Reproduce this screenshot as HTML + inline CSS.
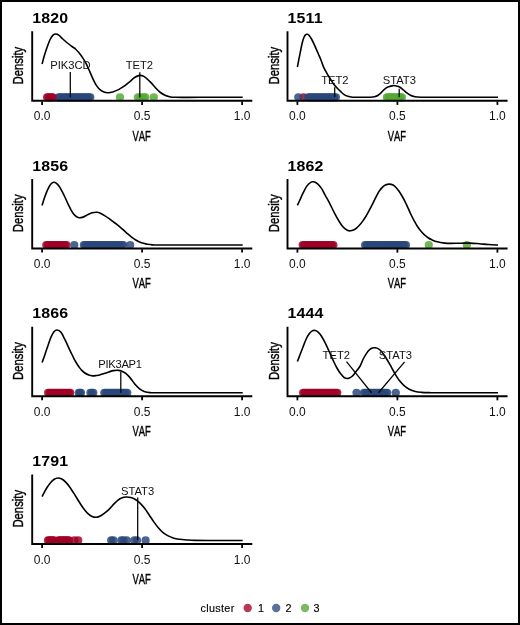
<!DOCTYPE html>
<html><head><meta charset="utf-8"><style>
html,body{margin:0;padding:0;background:#fff;}
body{width:520px;height:625px;overflow:hidden;}
svg{display:block;will-change:transform;}
text{font-family:"Liberation Sans",sans-serif;fill:#000;}
.ttl{font-weight:bold;font-size:14.5px;letter-spacing:0.1px;}
.ax{font-size:14.2px;stroke:#000;stroke-width:0.4px;font-kerning:none;}
.tl{font-size:12px;fill:#111;}
.lab{font-size:11.2px;fill:#111;}
.lg{font-size:10.8px;fill:#000;letter-spacing:0.35px;stroke:#000;stroke-width:0.15px;}
.crv{fill:none;stroke:#000;stroke-width:1.6;stroke-linejoin:round;}
.ll{stroke:#000;stroke-width:1.25;}
.axl{fill:none;stroke:#000;stroke-width:1.9;stroke-linecap:butt;stroke-linejoin:miter;}
.tk{stroke:#000;stroke-width:1.8;}
</style></head><body>
<svg width="520" height="625" viewBox="0 0 520 625">
<rect x="1" y="1" width="518" height="623" fill="#fff" stroke="#000" stroke-width="2"/>
<g transform="translate(0.00,0.00)">
<text transform="translate(32.3,22.9) scale(1.1,1)" class="ttl">1820</text>
<text class="ax" style="font-size:14.9px" transform="translate(23.35,65.6) rotate(-90) scale(0.76,1)" text-anchor="middle">Density</text>
<circle cx="58.60" cy="97.3" r="4.1" fill="#2A487A" fill-opacity="0.84"/>
<circle cx="60.19" cy="97.3" r="4.1" fill="#2A487A" fill-opacity="0.84"/>
<circle cx="61.77" cy="97.3" r="4.1" fill="#2A487A" fill-opacity="0.84"/>
<circle cx="63.36" cy="97.3" r="4.1" fill="#2A487A" fill-opacity="0.84"/>
<circle cx="64.94" cy="97.3" r="4.1" fill="#2A487A" fill-opacity="0.84"/>
<circle cx="66.53" cy="97.3" r="4.1" fill="#2A487A" fill-opacity="0.84"/>
<circle cx="68.11" cy="97.3" r="4.1" fill="#2A487A" fill-opacity="0.84"/>
<circle cx="69.69" cy="97.3" r="4.1" fill="#2A487A" fill-opacity="0.84"/>
<circle cx="71.28" cy="97.3" r="4.1" fill="#2A487A" fill-opacity="0.84"/>
<circle cx="72.86" cy="97.3" r="4.1" fill="#2A487A" fill-opacity="0.84"/>
<circle cx="74.45" cy="97.3" r="4.1" fill="#2A487A" fill-opacity="0.84"/>
<circle cx="76.03" cy="97.3" r="4.1" fill="#2A487A" fill-opacity="0.84"/>
<circle cx="77.62" cy="97.3" r="4.1" fill="#2A487A" fill-opacity="0.84"/>
<circle cx="79.20" cy="97.3" r="4.1" fill="#2A487A" fill-opacity="0.84"/>
<circle cx="80.79" cy="97.3" r="4.1" fill="#2A487A" fill-opacity="0.84"/>
<circle cx="82.38" cy="97.3" r="4.1" fill="#2A487A" fill-opacity="0.84"/>
<circle cx="83.96" cy="97.3" r="4.1" fill="#2A487A" fill-opacity="0.84"/>
<circle cx="85.55" cy="97.3" r="4.1" fill="#2A487A" fill-opacity="0.84"/>
<circle cx="87.13" cy="97.3" r="4.1" fill="#2A487A" fill-opacity="0.84"/>
<circle cx="88.72" cy="97.3" r="4.1" fill="#2A487A" fill-opacity="0.84"/>
<circle cx="90.30" cy="97.3" r="4.1" fill="#2A487A" fill-opacity="0.84"/>
<circle cx="47.10" cy="97.3" r="4.1" fill="#A00026" fill-opacity="0.84"/>
<circle cx="48.52" cy="97.3" r="4.1" fill="#A00026" fill-opacity="0.84"/>
<circle cx="49.95" cy="97.3" r="4.1" fill="#A00026" fill-opacity="0.84"/>
<circle cx="51.38" cy="97.3" r="4.1" fill="#A00026" fill-opacity="0.84"/>
<circle cx="52.80" cy="97.3" r="4.1" fill="#A00026" fill-opacity="0.84"/>
<circle cx="120.00" cy="97.3" r="4.1" fill="#55A834" fill-opacity="0.84"/>
<circle cx="137.90" cy="97.3" r="4.1" fill="#55A834" fill-opacity="0.84"/>
<circle cx="140.50" cy="97.3" r="4.1" fill="#55A834" fill-opacity="0.84"/>
<circle cx="143.50" cy="97.3" r="4.1" fill="#55A834" fill-opacity="0.84"/>
<circle cx="145.30" cy="97.3" r="4.1" fill="#55A834" fill-opacity="0.84"/>
<circle cx="153.80" cy="97.3" r="4.1" fill="#55A834" fill-opacity="0.84"/>
<path d="M42.10,64.00 C42.47,62.62 43.45,58.53 44.30,55.70 C45.15,52.87 46.23,49.70 47.20,47.00 C48.17,44.30 49.13,41.47 50.10,39.50 C51.07,37.53 52.03,36.12 53.00,35.20 C53.97,34.28 54.93,34.00 55.90,34.00 C56.87,34.00 57.65,34.37 58.80,35.20 C59.95,36.03 61.37,37.70 62.80,39.00 C64.23,40.30 65.87,41.75 67.40,43.00 C68.93,44.25 70.65,45.50 72.00,46.50 C73.35,47.50 74.33,47.95 75.50,49.00 C76.67,50.05 77.85,51.40 79.00,52.80 C80.15,54.20 81.25,55.67 82.40,57.40 C83.55,59.13 84.70,60.90 85.90,63.20 C87.10,65.50 88.40,68.53 89.60,71.20 C90.80,73.87 91.95,76.80 93.10,79.20 C94.25,81.60 95.25,83.77 96.50,85.60 C97.75,87.43 99.25,89.08 100.60,90.20 C101.95,91.32 103.35,91.88 104.60,92.30 C105.85,92.72 106.75,92.77 108.10,92.70 C109.45,92.63 110.97,92.42 112.70,91.90 C114.43,91.38 116.58,90.55 118.50,89.60 C120.42,88.65 122.28,87.55 124.20,86.20 C126.12,84.85 128.27,82.95 130.00,81.50 C131.73,80.05 133.00,78.52 134.60,77.50 C136.20,76.48 138.18,75.65 139.60,75.40 C141.02,75.15 141.95,75.52 143.10,76.00 C144.25,76.48 145.15,77.15 146.50,78.30 C147.85,79.45 149.65,81.27 151.20,82.90 C152.75,84.53 154.27,86.50 155.80,88.10 C157.33,89.70 158.87,91.32 160.40,92.50 C161.93,93.68 163.47,94.50 165.00,95.20 C166.53,95.90 167.87,96.35 169.60,96.70 C171.33,97.05 170.33,97.20 175.40,97.30 C180.47,97.40 188.78,97.30 200.00,97.30 C211.22,97.30 235.58,97.30 242.70,97.30" class="crv"/>
<text x="70.5" y="68.6" class="lab" text-anchor="middle">PIK3CD</text>
<text x="139.4" y="68.7" class="lab" text-anchor="middle">TET2</text>
<line x1="70.3" x2="70.3" y1="71.9" y2="97.2" class="ll"/>
<line x1="139.8" x2="139.8" y1="72.2" y2="97.4" class="ll"/>
<path d="M32.2,31.3 V100.8 H252.3" class="axl"/>
<line x1="42.1" x2="42.1" y1="101.5" y2="104.9" class="tk"/>
<text x="42.1" y="120.4" class="tl" text-anchor="middle">0.0</text>
<line x1="142.1" x2="142.1" y1="101.5" y2="104.9" class="tk"/>
<text x="142.1" y="120.4" class="tl" text-anchor="middle">0.5</text>
<line x1="242.1" x2="242.1" y1="101.5" y2="104.9" class="tk"/>
<text x="242.1" y="120.4" class="tl" text-anchor="middle">1.0</text>
<text class="ax" transform="translate(141.6,140.5) scale(0.665,1)" text-anchor="middle">VAF</text>
</g>
<g transform="translate(255.30,0.00)">
<text transform="translate(32.3,22.9) scale(1.1,1)" class="ttl">1511</text>
<text class="ax" style="font-size:14.9px" transform="translate(23.35,65.6) rotate(-90) scale(0.76,1)" text-anchor="middle">Density</text>
<circle cx="48.20" cy="97.3" r="4.1" fill="#A00026" fill-opacity="0.84"/>
<circle cx="43.00" cy="97.3" r="4.1" fill="#2A487A" fill-opacity="0.84"/>
<circle cx="52.90" cy="97.3" r="4.1" fill="#2A487A" fill-opacity="0.84"/>
<circle cx="54.53" cy="97.3" r="4.1" fill="#2A487A" fill-opacity="0.84"/>
<circle cx="56.16" cy="97.3" r="4.1" fill="#2A487A" fill-opacity="0.84"/>
<circle cx="57.79" cy="97.3" r="4.1" fill="#2A487A" fill-opacity="0.84"/>
<circle cx="59.42" cy="97.3" r="4.1" fill="#2A487A" fill-opacity="0.84"/>
<circle cx="61.05" cy="97.3" r="4.1" fill="#2A487A" fill-opacity="0.84"/>
<circle cx="62.68" cy="97.3" r="4.1" fill="#2A487A" fill-opacity="0.84"/>
<circle cx="64.31" cy="97.3" r="4.1" fill="#2A487A" fill-opacity="0.84"/>
<circle cx="65.94" cy="97.3" r="4.1" fill="#2A487A" fill-opacity="0.84"/>
<circle cx="67.56" cy="97.3" r="4.1" fill="#2A487A" fill-opacity="0.84"/>
<circle cx="69.19" cy="97.3" r="4.1" fill="#2A487A" fill-opacity="0.84"/>
<circle cx="70.82" cy="97.3" r="4.1" fill="#2A487A" fill-opacity="0.84"/>
<circle cx="72.45" cy="97.3" r="4.1" fill="#2A487A" fill-opacity="0.84"/>
<circle cx="74.08" cy="97.3" r="4.1" fill="#2A487A" fill-opacity="0.84"/>
<circle cx="75.71" cy="97.3" r="4.1" fill="#2A487A" fill-opacity="0.84"/>
<circle cx="77.34" cy="97.3" r="4.1" fill="#2A487A" fill-opacity="0.84"/>
<circle cx="78.97" cy="97.3" r="4.1" fill="#2A487A" fill-opacity="0.84"/>
<circle cx="80.60" cy="97.3" r="4.1" fill="#2A487A" fill-opacity="0.84"/>
<circle cx="131.60" cy="97.3" r="4.1" fill="#55A834" fill-opacity="0.84"/>
<circle cx="133.10" cy="97.3" r="4.1" fill="#55A834" fill-opacity="0.84"/>
<circle cx="134.60" cy="97.3" r="4.1" fill="#55A834" fill-opacity="0.84"/>
<circle cx="136.10" cy="97.3" r="4.1" fill="#55A834" fill-opacity="0.84"/>
<circle cx="137.60" cy="97.3" r="4.1" fill="#55A834" fill-opacity="0.84"/>
<circle cx="139.10" cy="97.3" r="4.1" fill="#55A834" fill-opacity="0.84"/>
<circle cx="140.60" cy="97.3" r="4.1" fill="#55A834" fill-opacity="0.84"/>
<circle cx="142.10" cy="97.3" r="4.1" fill="#55A834" fill-opacity="0.84"/>
<circle cx="143.60" cy="97.3" r="4.1" fill="#55A834" fill-opacity="0.84"/>
<circle cx="145.10" cy="97.3" r="4.1" fill="#55A834" fill-opacity="0.84"/>
<circle cx="146.60" cy="97.3" r="4.1" fill="#55A834" fill-opacity="0.84"/>
<path d="M42.10,67.00 C42.33,65.78 42.98,62.35 43.50,59.70 C44.02,57.05 44.63,53.88 45.20,51.10 C45.77,48.32 46.32,45.32 46.90,43.00 C47.48,40.68 48.12,38.58 48.70,37.20 C49.28,35.82 49.83,35.18 50.40,34.70 C50.97,34.22 51.52,34.17 52.10,34.30 C52.68,34.43 53.22,34.72 53.90,35.50 C54.58,36.28 55.43,37.65 56.20,39.00 C56.97,40.35 57.73,41.97 58.50,43.60 C59.27,45.23 60.03,47.07 60.80,48.80 C61.57,50.53 62.33,52.27 63.10,54.00 C63.87,55.73 64.55,57.05 65.40,59.20 C66.25,61.35 67.17,64.55 68.20,66.90 C69.23,69.25 70.45,71.28 71.60,73.30 C72.75,75.32 73.95,77.18 75.10,79.00 C76.25,80.82 77.35,82.65 78.50,84.20 C79.65,85.75 80.83,87.05 82.00,88.30 C83.17,89.55 84.35,90.65 85.50,91.70 C86.65,92.75 87.75,93.83 88.90,94.60 C90.05,95.37 91.05,95.87 92.40,96.30 C93.75,96.73 94.88,97.03 97.00,97.20 C99.12,97.37 102.15,97.30 105.10,97.30 C108.05,97.30 112.33,97.30 114.70,97.20 C117.07,97.10 117.95,97.03 119.30,96.70 C120.65,96.37 121.65,95.93 122.80,95.20 C123.95,94.47 125.05,93.37 126.20,92.30 C127.35,91.23 128.53,89.72 129.70,88.80 C130.87,87.88 131.85,87.33 133.20,86.80 C134.55,86.27 136.47,85.73 137.80,85.60 C139.13,85.47 140.05,85.72 141.20,86.00 C142.35,86.28 143.53,86.63 144.70,87.30 C145.87,87.97 147.05,89.07 148.20,90.00 C149.35,90.93 150.45,92.03 151.60,92.90 C152.75,93.77 153.75,94.57 155.10,95.20 C156.45,95.83 157.97,96.37 159.70,96.70 C161.43,97.03 162.95,97.10 165.50,97.20 C168.05,97.30 162.13,97.28 175.00,97.30 C187.87,97.32 231.42,97.30 242.70,97.30" class="crv"/>
<text x="79.6" y="84.2" class="lab" text-anchor="middle">TET2</text>
<text x="144.0" y="84.2" class="lab" text-anchor="middle">STAT3</text>
<line x1="79.4" x2="79.4" y1="87.3" y2="96.9" class="ll"/>
<line x1="143.9" x2="143.9" y1="88.8" y2="97.2" class="ll"/>
<path d="M32.2,31.3 V100.8 H252.3" class="axl"/>
<line x1="42.1" x2="42.1" y1="101.5" y2="104.9" class="tk"/>
<text x="42.1" y="120.4" class="tl" text-anchor="middle">0.0</text>
<line x1="142.1" x2="142.1" y1="101.5" y2="104.9" class="tk"/>
<text x="142.1" y="120.4" class="tl" text-anchor="middle">0.5</text>
<line x1="242.1" x2="242.1" y1="101.5" y2="104.9" class="tk"/>
<text x="242.1" y="120.4" class="tl" text-anchor="middle">1.0</text>
<text class="ax" transform="translate(141.6,140.5) scale(0.665,1)" text-anchor="middle">VAF</text>
</g>
<g transform="translate(0.00,147.72)">
<text transform="translate(32.3,22.9) scale(1.1,1)" class="ttl">1856</text>
<text class="ax" style="font-size:14.9px" transform="translate(23.35,65.6) rotate(-90) scale(0.76,1)" text-anchor="middle">Density</text>
<circle cx="46.30" cy="97.3" r="4.1" fill="#A00026" fill-opacity="0.84"/>
<circle cx="47.85" cy="97.3" r="4.1" fill="#A00026" fill-opacity="0.84"/>
<circle cx="49.39" cy="97.3" r="4.1" fill="#A00026" fill-opacity="0.84"/>
<circle cx="50.94" cy="97.3" r="4.1" fill="#A00026" fill-opacity="0.84"/>
<circle cx="52.48" cy="97.3" r="4.1" fill="#A00026" fill-opacity="0.84"/>
<circle cx="54.03" cy="97.3" r="4.1" fill="#A00026" fill-opacity="0.84"/>
<circle cx="55.58" cy="97.3" r="4.1" fill="#A00026" fill-opacity="0.84"/>
<circle cx="57.12" cy="97.3" r="4.1" fill="#A00026" fill-opacity="0.84"/>
<circle cx="58.67" cy="97.3" r="4.1" fill="#A00026" fill-opacity="0.84"/>
<circle cx="60.22" cy="97.3" r="4.1" fill="#A00026" fill-opacity="0.84"/>
<circle cx="61.76" cy="97.3" r="4.1" fill="#A00026" fill-opacity="0.84"/>
<circle cx="63.31" cy="97.3" r="4.1" fill="#A00026" fill-opacity="0.84"/>
<circle cx="64.85" cy="97.3" r="4.1" fill="#A00026" fill-opacity="0.84"/>
<circle cx="66.40" cy="97.3" r="4.1" fill="#A00026" fill-opacity="0.84"/>
<circle cx="74.30" cy="97.3" r="4.1" fill="#2A487A" fill-opacity="0.84"/>
<circle cx="83.90" cy="97.3" r="4.1" fill="#2A487A" fill-opacity="0.84"/>
<circle cx="85.48" cy="97.3" r="4.1" fill="#2A487A" fill-opacity="0.84"/>
<circle cx="87.05" cy="97.3" r="4.1" fill="#2A487A" fill-opacity="0.84"/>
<circle cx="88.63" cy="97.3" r="4.1" fill="#2A487A" fill-opacity="0.84"/>
<circle cx="90.20" cy="97.3" r="4.1" fill="#2A487A" fill-opacity="0.84"/>
<circle cx="91.78" cy="97.3" r="4.1" fill="#2A487A" fill-opacity="0.84"/>
<circle cx="93.36" cy="97.3" r="4.1" fill="#2A487A" fill-opacity="0.84"/>
<circle cx="94.93" cy="97.3" r="4.1" fill="#2A487A" fill-opacity="0.84"/>
<circle cx="96.51" cy="97.3" r="4.1" fill="#2A487A" fill-opacity="0.84"/>
<circle cx="98.08" cy="97.3" r="4.1" fill="#2A487A" fill-opacity="0.84"/>
<circle cx="99.66" cy="97.3" r="4.1" fill="#2A487A" fill-opacity="0.84"/>
<circle cx="101.24" cy="97.3" r="4.1" fill="#2A487A" fill-opacity="0.84"/>
<circle cx="102.81" cy="97.3" r="4.1" fill="#2A487A" fill-opacity="0.84"/>
<circle cx="104.39" cy="97.3" r="4.1" fill="#2A487A" fill-opacity="0.84"/>
<circle cx="105.96" cy="97.3" r="4.1" fill="#2A487A" fill-opacity="0.84"/>
<circle cx="107.54" cy="97.3" r="4.1" fill="#2A487A" fill-opacity="0.84"/>
<circle cx="109.12" cy="97.3" r="4.1" fill="#2A487A" fill-opacity="0.84"/>
<circle cx="110.69" cy="97.3" r="4.1" fill="#2A487A" fill-opacity="0.84"/>
<circle cx="112.27" cy="97.3" r="4.1" fill="#2A487A" fill-opacity="0.84"/>
<circle cx="113.84" cy="97.3" r="4.1" fill="#2A487A" fill-opacity="0.84"/>
<circle cx="115.42" cy="97.3" r="4.1" fill="#2A487A" fill-opacity="0.84"/>
<circle cx="117.00" cy="97.3" r="4.1" fill="#2A487A" fill-opacity="0.84"/>
<circle cx="118.57" cy="97.3" r="4.1" fill="#2A487A" fill-opacity="0.84"/>
<circle cx="120.15" cy="97.3" r="4.1" fill="#2A487A" fill-opacity="0.84"/>
<circle cx="121.72" cy="97.3" r="4.1" fill="#2A487A" fill-opacity="0.84"/>
<circle cx="123.30" cy="97.3" r="4.1" fill="#2A487A" fill-opacity="0.84"/>
<circle cx="130.20" cy="97.3" r="4.1" fill="#2A487A" fill-opacity="0.84"/>
<path d="M42.10,57.80 C42.38,56.85 43.13,54.12 43.80,52.10 C44.47,50.08 45.33,47.63 46.10,45.70 C46.87,43.77 47.63,42.03 48.40,40.50 C49.17,38.97 49.83,37.48 50.70,36.50 C51.57,35.52 52.63,34.75 53.60,34.60 C54.57,34.45 55.55,34.90 56.50,35.60 C57.45,36.30 58.35,37.40 59.30,38.80 C60.25,40.20 61.23,42.17 62.20,44.00 C63.17,45.83 64.13,47.78 65.10,49.80 C66.07,51.82 66.93,53.88 68.00,56.10 C69.07,58.32 70.35,61.17 71.50,63.10 C72.65,65.03 73.65,66.55 74.90,67.70 C76.15,68.85 77.65,69.72 79.00,70.00 C80.35,70.28 81.57,69.88 83.00,69.40 C84.43,68.92 86.07,67.82 87.60,67.10 C89.13,66.38 90.65,65.52 92.20,65.10 C93.75,64.68 95.53,64.53 96.90,64.60 C98.27,64.67 99.05,64.92 100.40,65.50 C101.75,66.08 103.60,67.23 105.00,68.10 C106.40,68.97 107.52,69.77 108.80,70.70 C110.08,71.63 111.42,72.73 112.70,73.70 C113.98,74.67 115.22,75.52 116.50,76.50 C117.78,77.48 119.12,78.52 120.40,79.60 C121.68,80.68 122.92,81.85 124.20,83.00 C125.48,84.15 126.82,85.40 128.10,86.50 C129.38,87.60 130.62,88.63 131.90,89.60 C133.18,90.57 134.52,91.53 135.80,92.30 C137.08,93.07 138.32,93.65 139.60,94.20 C140.88,94.75 142.18,95.20 143.50,95.60 C144.82,96.00 145.97,96.35 147.50,96.60 C149.03,96.85 150.62,96.98 152.70,97.10 C154.78,97.22 145.00,97.27 160.00,97.30 C175.00,97.33 228.92,97.30 242.70,97.30" class="crv"/>
<path d="M32.2,31.3 V100.8 H252.3" class="axl"/>
<line x1="42.1" x2="42.1" y1="101.5" y2="104.9" class="tk"/>
<text x="42.1" y="120.4" class="tl" text-anchor="middle">0.0</text>
<line x1="142.1" x2="142.1" y1="101.5" y2="104.9" class="tk"/>
<text x="142.1" y="120.4" class="tl" text-anchor="middle">0.5</text>
<line x1="242.1" x2="242.1" y1="101.5" y2="104.9" class="tk"/>
<text x="242.1" y="120.4" class="tl" text-anchor="middle">1.0</text>
<text class="ax" transform="translate(141.6,140.5) scale(0.665,1)" text-anchor="middle">VAF</text>
</g>
<g transform="translate(255.30,147.72)">
<text transform="translate(32.3,22.9) scale(1.1,1)" class="ttl">1862</text>
<text class="ax" style="font-size:14.9px" transform="translate(23.35,65.6) rotate(-90) scale(0.76,1)" text-anchor="middle">Density</text>
<circle cx="47.40" cy="97.3" r="4.1" fill="#A00026" fill-opacity="0.84"/>
<circle cx="48.93" cy="97.3" r="4.1" fill="#A00026" fill-opacity="0.84"/>
<circle cx="50.47" cy="97.3" r="4.1" fill="#A00026" fill-opacity="0.84"/>
<circle cx="52.00" cy="97.3" r="4.1" fill="#A00026" fill-opacity="0.84"/>
<circle cx="53.54" cy="97.3" r="4.1" fill="#A00026" fill-opacity="0.84"/>
<circle cx="55.07" cy="97.3" r="4.1" fill="#A00026" fill-opacity="0.84"/>
<circle cx="56.61" cy="97.3" r="4.1" fill="#A00026" fill-opacity="0.84"/>
<circle cx="58.14" cy="97.3" r="4.1" fill="#A00026" fill-opacity="0.84"/>
<circle cx="59.68" cy="97.3" r="4.1" fill="#A00026" fill-opacity="0.84"/>
<circle cx="61.21" cy="97.3" r="4.1" fill="#A00026" fill-opacity="0.84"/>
<circle cx="62.75" cy="97.3" r="4.1" fill="#A00026" fill-opacity="0.84"/>
<circle cx="64.28" cy="97.3" r="4.1" fill="#A00026" fill-opacity="0.84"/>
<circle cx="65.82" cy="97.3" r="4.1" fill="#A00026" fill-opacity="0.84"/>
<circle cx="67.35" cy="97.3" r="4.1" fill="#A00026" fill-opacity="0.84"/>
<circle cx="68.89" cy="97.3" r="4.1" fill="#A00026" fill-opacity="0.84"/>
<circle cx="70.42" cy="97.3" r="4.1" fill="#A00026" fill-opacity="0.84"/>
<circle cx="71.96" cy="97.3" r="4.1" fill="#A00026" fill-opacity="0.84"/>
<circle cx="73.49" cy="97.3" r="4.1" fill="#A00026" fill-opacity="0.84"/>
<circle cx="75.03" cy="97.3" r="4.1" fill="#A00026" fill-opacity="0.84"/>
<circle cx="76.56" cy="97.3" r="4.1" fill="#A00026" fill-opacity="0.84"/>
<circle cx="78.10" cy="97.3" r="4.1" fill="#A00026" fill-opacity="0.84"/>
<circle cx="109.80" cy="97.3" r="4.1" fill="#2A487A" fill-opacity="0.84"/>
<circle cx="111.37" cy="97.3" r="4.1" fill="#2A487A" fill-opacity="0.84"/>
<circle cx="112.95" cy="97.3" r="4.1" fill="#2A487A" fill-opacity="0.84"/>
<circle cx="114.52" cy="97.3" r="4.1" fill="#2A487A" fill-opacity="0.84"/>
<circle cx="116.09" cy="97.3" r="4.1" fill="#2A487A" fill-opacity="0.84"/>
<circle cx="117.67" cy="97.3" r="4.1" fill="#2A487A" fill-opacity="0.84"/>
<circle cx="119.24" cy="97.3" r="4.1" fill="#2A487A" fill-opacity="0.84"/>
<circle cx="120.81" cy="97.3" r="4.1" fill="#2A487A" fill-opacity="0.84"/>
<circle cx="122.38" cy="97.3" r="4.1" fill="#2A487A" fill-opacity="0.84"/>
<circle cx="123.96" cy="97.3" r="4.1" fill="#2A487A" fill-opacity="0.84"/>
<circle cx="125.53" cy="97.3" r="4.1" fill="#2A487A" fill-opacity="0.84"/>
<circle cx="127.10" cy="97.3" r="4.1" fill="#2A487A" fill-opacity="0.84"/>
<circle cx="128.68" cy="97.3" r="4.1" fill="#2A487A" fill-opacity="0.84"/>
<circle cx="130.25" cy="97.3" r="4.1" fill="#2A487A" fill-opacity="0.84"/>
<circle cx="131.82" cy="97.3" r="4.1" fill="#2A487A" fill-opacity="0.84"/>
<circle cx="133.40" cy="97.3" r="4.1" fill="#2A487A" fill-opacity="0.84"/>
<circle cx="134.97" cy="97.3" r="4.1" fill="#2A487A" fill-opacity="0.84"/>
<circle cx="136.54" cy="97.3" r="4.1" fill="#2A487A" fill-opacity="0.84"/>
<circle cx="138.12" cy="97.3" r="4.1" fill="#2A487A" fill-opacity="0.84"/>
<circle cx="139.69" cy="97.3" r="4.1" fill="#2A487A" fill-opacity="0.84"/>
<circle cx="141.26" cy="97.3" r="4.1" fill="#2A487A" fill-opacity="0.84"/>
<circle cx="142.83" cy="97.3" r="4.1" fill="#2A487A" fill-opacity="0.84"/>
<circle cx="144.41" cy="97.3" r="4.1" fill="#2A487A" fill-opacity="0.84"/>
<circle cx="145.98" cy="97.3" r="4.1" fill="#2A487A" fill-opacity="0.84"/>
<circle cx="147.55" cy="97.3" r="4.1" fill="#2A487A" fill-opacity="0.84"/>
<circle cx="149.13" cy="97.3" r="4.1" fill="#2A487A" fill-opacity="0.84"/>
<circle cx="150.70" cy="97.3" r="4.1" fill="#2A487A" fill-opacity="0.84"/>
<circle cx="173.50" cy="97.3" r="4.1" fill="#55A834" fill-opacity="0.84"/>
<circle cx="211.60" cy="97.3" r="4.1" fill="#55A834" fill-opacity="0.84"/>
<path d="M42.10,57.60 C42.52,56.72 43.67,54.33 44.60,52.30 C45.53,50.27 46.55,47.72 47.70,45.40 C48.85,43.08 50.22,40.20 51.50,38.40 C52.78,36.60 54.23,35.32 55.40,34.60 C56.57,33.88 57.35,33.85 58.50,34.10 C59.65,34.35 61.02,35.00 62.30,36.10 C63.58,37.20 64.92,38.77 66.20,40.70 C67.48,42.63 68.60,45.13 70.00,47.70 C71.40,50.27 73.07,53.15 74.60,56.10 C76.13,59.05 77.65,62.45 79.20,65.40 C80.75,68.35 82.57,71.60 83.90,73.80 C85.23,76.00 86.20,77.37 87.20,78.60 C88.20,79.83 89.03,80.52 89.90,81.20 C90.77,81.88 91.53,82.38 92.40,82.70 C93.27,83.02 94.13,83.17 95.10,83.10 C96.07,83.03 97.18,82.75 98.20,82.30 C99.22,81.85 100.18,81.23 101.20,80.40 C102.22,79.57 103.27,78.47 104.30,77.30 C105.33,76.13 106.37,74.82 107.40,73.40 C108.43,71.98 109.48,70.47 110.50,68.80 C111.52,67.13 112.38,65.47 113.50,63.40 C114.62,61.33 115.97,58.83 117.20,56.40 C118.43,53.97 119.78,50.97 120.90,48.80 C122.02,46.63 122.88,44.93 123.90,43.40 C124.92,41.87 125.97,40.62 127.00,39.60 C128.03,38.58 128.95,37.83 130.10,37.30 C131.25,36.77 132.62,36.40 133.90,36.40 C135.18,36.40 136.63,36.70 137.80,37.30 C138.97,37.90 139.88,38.92 140.90,40.00 C141.92,41.08 142.88,42.33 143.90,43.80 C144.92,45.27 145.97,47.00 147.00,48.80 C148.03,50.60 149.13,52.67 150.10,54.60 C151.07,56.53 151.83,58.28 152.80,60.40 C153.77,62.52 154.88,65.18 155.90,67.30 C156.92,69.42 157.88,71.23 158.90,73.10 C159.92,74.97 160.97,76.90 162.00,78.50 C163.03,80.10 163.95,81.30 165.10,82.70 C166.25,84.10 167.62,85.68 168.90,86.90 C170.18,88.12 171.52,89.13 172.80,90.00 C174.08,90.87 175.07,91.42 176.60,92.10 C178.13,92.78 179.82,93.55 182.00,94.10 C184.18,94.65 187.58,95.13 189.70,95.40 C191.82,95.67 192.07,95.68 194.70,95.70 C197.33,95.72 202.17,95.55 205.50,95.50 C208.83,95.45 211.63,95.32 214.70,95.40 C217.77,95.48 220.82,95.77 223.90,96.00 C226.98,96.23 230.07,96.58 233.20,96.80 C236.33,97.02 241.12,97.22 242.70,97.30" class="crv"/>
<path d="M32.2,31.3 V100.8 H252.3" class="axl"/>
<line x1="42.1" x2="42.1" y1="101.5" y2="104.9" class="tk"/>
<text x="42.1" y="120.4" class="tl" text-anchor="middle">0.0</text>
<line x1="142.1" x2="142.1" y1="101.5" y2="104.9" class="tk"/>
<text x="142.1" y="120.4" class="tl" text-anchor="middle">0.5</text>
<line x1="242.1" x2="242.1" y1="101.5" y2="104.9" class="tk"/>
<text x="242.1" y="120.4" class="tl" text-anchor="middle">1.0</text>
<text class="ax" transform="translate(141.6,140.5) scale(0.665,1)" text-anchor="middle">VAF</text>
</g>
<g transform="translate(0.00,295.44)">
<text transform="translate(32.3,22.9) scale(1.1,1)" class="ttl">1866</text>
<text class="ax" style="font-size:14.9px" transform="translate(23.35,65.6) rotate(-90) scale(0.76,1)" text-anchor="middle">Density</text>
<circle cx="48.10" cy="97.3" r="4.1" fill="#A00026" fill-opacity="0.84"/>
<circle cx="49.58" cy="97.3" r="4.1" fill="#A00026" fill-opacity="0.84"/>
<circle cx="51.06" cy="97.3" r="4.1" fill="#A00026" fill-opacity="0.84"/>
<circle cx="52.54" cy="97.3" r="4.1" fill="#A00026" fill-opacity="0.84"/>
<circle cx="54.02" cy="97.3" r="4.1" fill="#A00026" fill-opacity="0.84"/>
<circle cx="55.50" cy="97.3" r="4.1" fill="#A00026" fill-opacity="0.84"/>
<circle cx="56.98" cy="97.3" r="4.1" fill="#A00026" fill-opacity="0.84"/>
<circle cx="58.46" cy="97.3" r="4.1" fill="#A00026" fill-opacity="0.84"/>
<circle cx="59.94" cy="97.3" r="4.1" fill="#A00026" fill-opacity="0.84"/>
<circle cx="61.42" cy="97.3" r="4.1" fill="#A00026" fill-opacity="0.84"/>
<circle cx="62.90" cy="97.3" r="4.1" fill="#A00026" fill-opacity="0.84"/>
<circle cx="64.38" cy="97.3" r="4.1" fill="#A00026" fill-opacity="0.84"/>
<circle cx="65.86" cy="97.3" r="4.1" fill="#A00026" fill-opacity="0.84"/>
<circle cx="67.34" cy="97.3" r="4.1" fill="#A00026" fill-opacity="0.84"/>
<circle cx="68.82" cy="97.3" r="4.1" fill="#A00026" fill-opacity="0.84"/>
<circle cx="70.30" cy="97.3" r="4.1" fill="#A00026" fill-opacity="0.84"/>
<circle cx="78.80" cy="97.3" r="4.1" fill="#2A487A" fill-opacity="0.84"/>
<circle cx="79.90" cy="97.3" r="4.1" fill="#2A487A" fill-opacity="0.84"/>
<circle cx="81.00" cy="97.3" r="4.1" fill="#2A487A" fill-opacity="0.84"/>
<circle cx="90.40" cy="97.3" r="4.1" fill="#2A487A" fill-opacity="0.84"/>
<circle cx="91.85" cy="97.3" r="4.1" fill="#2A487A" fill-opacity="0.84"/>
<circle cx="93.30" cy="97.3" r="4.1" fill="#2A487A" fill-opacity="0.84"/>
<circle cx="104.30" cy="97.3" r="4.1" fill="#2A487A" fill-opacity="0.84"/>
<circle cx="105.94" cy="97.3" r="4.1" fill="#2A487A" fill-opacity="0.84"/>
<circle cx="107.59" cy="97.3" r="4.1" fill="#2A487A" fill-opacity="0.84"/>
<circle cx="109.23" cy="97.3" r="4.1" fill="#2A487A" fill-opacity="0.84"/>
<circle cx="110.87" cy="97.3" r="4.1" fill="#2A487A" fill-opacity="0.84"/>
<circle cx="112.51" cy="97.3" r="4.1" fill="#2A487A" fill-opacity="0.84"/>
<circle cx="114.16" cy="97.3" r="4.1" fill="#2A487A" fill-opacity="0.84"/>
<circle cx="115.80" cy="97.3" r="4.1" fill="#2A487A" fill-opacity="0.84"/>
<circle cx="117.44" cy="97.3" r="4.1" fill="#2A487A" fill-opacity="0.84"/>
<circle cx="119.09" cy="97.3" r="4.1" fill="#2A487A" fill-opacity="0.84"/>
<circle cx="120.73" cy="97.3" r="4.1" fill="#2A487A" fill-opacity="0.84"/>
<circle cx="122.37" cy="97.3" r="4.1" fill="#2A487A" fill-opacity="0.84"/>
<circle cx="124.01" cy="97.3" r="4.1" fill="#2A487A" fill-opacity="0.84"/>
<circle cx="125.66" cy="97.3" r="4.1" fill="#2A487A" fill-opacity="0.84"/>
<circle cx="127.30" cy="97.3" r="4.1" fill="#2A487A" fill-opacity="0.84"/>
<path d="M42.10,67.00 C42.57,65.70 43.92,62.03 44.90,59.20 C45.88,56.37 46.97,52.95 48.00,50.00 C49.03,47.05 50.07,43.82 51.10,41.50 C52.13,39.18 53.18,37.25 54.20,36.10 C55.22,34.95 56.05,34.47 57.20,34.60 C58.35,34.73 60.07,35.82 61.10,36.90 C62.13,37.98 62.63,39.63 63.40,41.10 C64.17,42.57 64.93,44.10 65.70,45.70 C66.47,47.30 67.23,49.03 68.00,50.70 C68.77,52.37 69.53,54.10 70.30,55.70 C71.07,57.30 71.83,58.75 72.60,60.30 C73.37,61.85 74.13,63.58 74.90,65.00 C75.67,66.42 76.43,67.60 77.20,68.80 C77.97,70.00 78.73,71.18 79.50,72.20 C80.27,73.22 80.90,74.00 81.80,74.90 C82.70,75.80 83.73,76.82 84.90,77.60 C86.07,78.38 87.52,79.13 88.80,79.60 C90.08,80.07 91.32,80.32 92.60,80.40 C93.88,80.48 95.33,80.23 96.50,80.10 C97.67,79.97 98.32,79.95 99.60,79.60 C100.88,79.25 102.67,78.52 104.20,78.00 C105.73,77.48 107.25,76.97 108.80,76.50 C110.35,76.03 111.95,75.47 113.50,75.20 C115.05,74.93 116.70,74.82 118.10,74.90 C119.50,74.98 120.62,75.18 121.90,75.70 C123.18,76.22 124.38,76.83 125.80,78.00 C127.22,79.17 128.87,80.90 130.40,82.70 C131.93,84.50 133.47,87.02 135.00,88.80 C136.53,90.58 138.07,92.20 139.60,93.40 C141.13,94.60 142.40,95.37 144.20,96.00 C146.00,96.63 148.10,96.98 150.40,97.20 C152.70,97.42 142.62,97.28 158.00,97.30 C173.38,97.32 228.58,97.30 242.70,97.30" class="crv"/>
<text x="120.0" y="72.7" class="lab" text-anchor="middle" style="letter-spacing:-0.3px">PIK3AP1</text>
<line x1="120.8" x2="120.8" y1="76.5" y2="97.3" class="ll"/>
<path d="M32.2,31.3 V100.8 H252.3" class="axl"/>
<line x1="42.1" x2="42.1" y1="101.5" y2="104.9" class="tk"/>
<text x="42.1" y="120.4" class="tl" text-anchor="middle">0.0</text>
<line x1="142.1" x2="142.1" y1="101.5" y2="104.9" class="tk"/>
<text x="142.1" y="120.4" class="tl" text-anchor="middle">0.5</text>
<line x1="242.1" x2="242.1" y1="101.5" y2="104.9" class="tk"/>
<text x="242.1" y="120.4" class="tl" text-anchor="middle">1.0</text>
<text class="ax" transform="translate(141.6,140.5) scale(0.665,1)" text-anchor="middle">VAF</text>
</g>
<g transform="translate(255.30,295.44)">
<text transform="translate(32.3,22.9) scale(1.1,1)" class="ttl">1444</text>
<text class="ax" style="font-size:14.9px" transform="translate(23.35,65.6) rotate(-90) scale(0.76,1)" text-anchor="middle">Density</text>
<circle cx="47.80" cy="97.3" r="4.1" fill="#A00026" fill-opacity="0.84"/>
<circle cx="49.29" cy="97.3" r="4.1" fill="#A00026" fill-opacity="0.84"/>
<circle cx="50.77" cy="97.3" r="4.1" fill="#A00026" fill-opacity="0.84"/>
<circle cx="52.26" cy="97.3" r="4.1" fill="#A00026" fill-opacity="0.84"/>
<circle cx="53.75" cy="97.3" r="4.1" fill="#A00026" fill-opacity="0.84"/>
<circle cx="55.23" cy="97.3" r="4.1" fill="#A00026" fill-opacity="0.84"/>
<circle cx="56.72" cy="97.3" r="4.1" fill="#A00026" fill-opacity="0.84"/>
<circle cx="58.21" cy="97.3" r="4.1" fill="#A00026" fill-opacity="0.84"/>
<circle cx="59.70" cy="97.3" r="4.1" fill="#A00026" fill-opacity="0.84"/>
<circle cx="61.18" cy="97.3" r="4.1" fill="#A00026" fill-opacity="0.84"/>
<circle cx="62.67" cy="97.3" r="4.1" fill="#A00026" fill-opacity="0.84"/>
<circle cx="64.16" cy="97.3" r="4.1" fill="#A00026" fill-opacity="0.84"/>
<circle cx="65.64" cy="97.3" r="4.1" fill="#A00026" fill-opacity="0.84"/>
<circle cx="67.13" cy="97.3" r="4.1" fill="#A00026" fill-opacity="0.84"/>
<circle cx="68.62" cy="97.3" r="4.1" fill="#A00026" fill-opacity="0.84"/>
<circle cx="70.10" cy="97.3" r="4.1" fill="#A00026" fill-opacity="0.84"/>
<circle cx="71.59" cy="97.3" r="4.1" fill="#A00026" fill-opacity="0.84"/>
<circle cx="73.08" cy="97.3" r="4.1" fill="#A00026" fill-opacity="0.84"/>
<circle cx="74.57" cy="97.3" r="4.1" fill="#A00026" fill-opacity="0.84"/>
<circle cx="76.05" cy="97.3" r="4.1" fill="#A00026" fill-opacity="0.84"/>
<circle cx="77.54" cy="97.3" r="4.1" fill="#A00026" fill-opacity="0.84"/>
<circle cx="79.03" cy="97.3" r="4.1" fill="#A00026" fill-opacity="0.84"/>
<circle cx="80.51" cy="97.3" r="4.1" fill="#A00026" fill-opacity="0.84"/>
<circle cx="82.00" cy="97.3" r="4.1" fill="#A00026" fill-opacity="0.84"/>
<circle cx="101.20" cy="97.3" r="4.1" fill="#2A487A" fill-opacity="0.84"/>
<circle cx="108.60" cy="97.3" r="4.1" fill="#2A487A" fill-opacity="0.84"/>
<circle cx="110.16" cy="97.3" r="4.1" fill="#2A487A" fill-opacity="0.84"/>
<circle cx="111.72" cy="97.3" r="4.1" fill="#2A487A" fill-opacity="0.84"/>
<circle cx="113.28" cy="97.3" r="4.1" fill="#2A487A" fill-opacity="0.84"/>
<circle cx="114.84" cy="97.3" r="4.1" fill="#2A487A" fill-opacity="0.84"/>
<circle cx="116.40" cy="97.3" r="4.1" fill="#2A487A" fill-opacity="0.84"/>
<circle cx="117.96" cy="97.3" r="4.1" fill="#2A487A" fill-opacity="0.84"/>
<circle cx="119.52" cy="97.3" r="4.1" fill="#2A487A" fill-opacity="0.84"/>
<circle cx="121.08" cy="97.3" r="4.1" fill="#2A487A" fill-opacity="0.84"/>
<circle cx="122.64" cy="97.3" r="4.1" fill="#2A487A" fill-opacity="0.84"/>
<circle cx="124.20" cy="97.3" r="4.1" fill="#2A487A" fill-opacity="0.84"/>
<circle cx="125.76" cy="97.3" r="4.1" fill="#2A487A" fill-opacity="0.84"/>
<circle cx="127.32" cy="97.3" r="4.1" fill="#2A487A" fill-opacity="0.84"/>
<circle cx="128.88" cy="97.3" r="4.1" fill="#2A487A" fill-opacity="0.84"/>
<circle cx="130.44" cy="97.3" r="4.1" fill="#2A487A" fill-opacity="0.84"/>
<circle cx="132.00" cy="97.3" r="4.1" fill="#2A487A" fill-opacity="0.84"/>
<circle cx="140.50" cy="97.3" r="4.1" fill="#2A487A" fill-opacity="0.84"/>
<path d="M42.10,66.00 C42.52,64.93 43.67,62.02 44.60,59.60 C45.53,57.18 46.67,54.13 47.70,51.50 C48.73,48.87 49.77,45.98 50.80,43.80 C51.83,41.62 52.88,39.80 53.90,38.40 C54.92,37.00 55.88,35.95 56.90,35.40 C57.92,34.85 58.97,34.85 60.00,35.10 C61.03,35.35 62.07,35.95 63.10,36.90 C64.13,37.85 65.05,39.00 66.20,40.80 C67.35,42.60 68.72,45.15 70.00,47.70 C71.28,50.25 72.62,53.28 73.90,56.10 C75.18,58.92 76.43,61.90 77.70,64.60 C78.97,67.30 80.22,70.00 81.50,72.30 C82.78,74.60 84.12,76.73 85.40,78.40 C86.68,80.07 87.92,81.55 89.20,82.30 C90.48,83.05 91.82,83.15 93.10,82.90 C94.38,82.65 95.62,81.93 96.90,80.80 C98.18,79.67 99.50,77.77 100.80,76.10 C102.10,74.43 103.53,72.85 104.70,70.80 C105.87,68.75 106.77,65.87 107.80,63.80 C108.83,61.73 109.88,59.93 110.90,58.40 C111.92,56.87 112.88,55.57 113.90,54.60 C114.92,53.63 115.97,52.98 117.00,52.60 C118.03,52.22 119.07,52.17 120.10,52.30 C121.13,52.43 122.18,52.77 123.20,53.40 C124.22,54.03 125.05,54.75 126.20,56.10 C127.35,57.45 128.68,59.32 130.10,61.50 C131.52,63.68 133.17,66.52 134.70,69.20 C136.23,71.88 137.77,74.98 139.30,77.60 C140.83,80.22 142.37,82.85 143.90,84.90 C145.43,86.95 146.83,88.42 148.50,89.90 C150.17,91.38 151.97,92.77 153.90,93.80 C155.83,94.83 158.05,95.58 160.10,96.10 C162.15,96.62 163.90,96.72 166.20,96.90 C168.50,97.08 170.77,97.13 173.90,97.20 C177.03,97.27 173.53,97.28 185.00,97.30 C196.47,97.32 233.08,97.30 242.70,97.30" class="crv"/>
<text x="81.0" y="63.1" class="lab" text-anchor="middle">TET2</text>
<text x="140.1" y="63.8" class="lab" text-anchor="middle">STAT3</text>
<line x1="91.2" x2="116.2" y1="66.1" y2="97.3" class="ll"/>
<line x1="149.3" x2="123.2" y1="66.4" y2="97.3" class="ll"/>
<path d="M32.2,31.3 V100.8 H252.3" class="axl"/>
<line x1="42.1" x2="42.1" y1="101.5" y2="104.9" class="tk"/>
<text x="42.1" y="120.4" class="tl" text-anchor="middle">0.0</text>
<line x1="142.1" x2="142.1" y1="101.5" y2="104.9" class="tk"/>
<text x="142.1" y="120.4" class="tl" text-anchor="middle">0.5</text>
<line x1="242.1" x2="242.1" y1="101.5" y2="104.9" class="tk"/>
<text x="242.1" y="120.4" class="tl" text-anchor="middle">1.0</text>
<text class="ax" transform="translate(141.6,140.5) scale(0.665,1)" text-anchor="middle">VAF</text>
</g>
<g transform="translate(0.00,443.16)">
<text transform="translate(32.3,22.9) scale(1.1,1)" class="ttl">1791</text>
<text class="ax" style="font-size:14.9px" transform="translate(23.35,65.6) rotate(-90) scale(0.76,1)" text-anchor="middle">Density</text>
<circle cx="48.00" cy="97.3" r="4.1" fill="#A00026" fill-opacity="0.84"/>
<circle cx="49.50" cy="97.3" r="4.1" fill="#A00026" fill-opacity="0.84"/>
<circle cx="51.00" cy="97.3" r="4.1" fill="#A00026" fill-opacity="0.84"/>
<circle cx="52.50" cy="97.3" r="4.1" fill="#A00026" fill-opacity="0.84"/>
<circle cx="54.00" cy="97.3" r="4.1" fill="#A00026" fill-opacity="0.84"/>
<circle cx="58.50" cy="97.3" r="4.1" fill="#A00026" fill-opacity="0.84"/>
<circle cx="60.00" cy="97.3" r="4.1" fill="#A00026" fill-opacity="0.84"/>
<circle cx="61.50" cy="97.3" r="4.1" fill="#A00026" fill-opacity="0.84"/>
<circle cx="63.00" cy="97.3" r="4.1" fill="#A00026" fill-opacity="0.84"/>
<circle cx="64.50" cy="97.3" r="4.1" fill="#A00026" fill-opacity="0.84"/>
<circle cx="66.00" cy="97.3" r="4.1" fill="#A00026" fill-opacity="0.84"/>
<circle cx="67.50" cy="97.3" r="4.1" fill="#A00026" fill-opacity="0.84"/>
<circle cx="69.00" cy="97.3" r="4.1" fill="#A00026" fill-opacity="0.84"/>
<circle cx="74.40" cy="97.3" r="4.1" fill="#A00026" fill-opacity="0.84"/>
<circle cx="78.20" cy="97.3" r="4.1" fill="#A00026" fill-opacity="0.84"/>
<circle cx="111.20" cy="97.3" r="4.1" fill="#2A487A" fill-opacity="0.84"/>
<circle cx="113.40" cy="97.3" r="4.1" fill="#2A487A" fill-opacity="0.84"/>
<circle cx="121.30" cy="97.3" r="4.1" fill="#2A487A" fill-opacity="0.84"/>
<circle cx="123.50" cy="97.3" r="4.1" fill="#2A487A" fill-opacity="0.84"/>
<circle cx="126.70" cy="97.3" r="4.1" fill="#2A487A" fill-opacity="0.84"/>
<circle cx="134.30" cy="97.3" r="4.1" fill="#2A487A" fill-opacity="0.84"/>
<circle cx="137.00" cy="97.3" r="4.1" fill="#2A487A" fill-opacity="0.84"/>
<circle cx="145.60" cy="97.3" r="4.1" fill="#2A487A" fill-opacity="0.84"/>
<path d="M42.10,53.40 C42.45,52.75 43.35,51.05 44.20,49.50 C45.05,47.95 46.18,45.72 47.20,44.10 C48.22,42.48 49.13,41.13 50.30,39.80 C51.47,38.47 52.92,36.93 54.20,36.10 C55.48,35.27 56.73,34.83 58.00,34.80 C59.27,34.77 60.52,35.20 61.80,35.90 C63.08,36.60 64.42,37.72 65.70,39.00 C66.98,40.28 68.22,41.85 69.50,43.60 C70.78,45.35 72.12,47.50 73.40,49.50 C74.68,51.50 75.92,53.55 77.20,55.60 C78.48,57.65 79.82,59.88 81.10,61.80 C82.38,63.72 83.62,65.52 84.90,67.10 C86.18,68.68 87.52,70.22 88.80,71.30 C90.08,72.38 91.32,73.13 92.60,73.60 C93.88,74.07 95.22,74.23 96.50,74.10 C97.78,73.97 99.02,73.45 100.30,72.80 C101.58,72.15 102.78,71.27 104.20,70.20 C105.62,69.13 107.20,67.93 108.80,66.40 C110.40,64.87 112.32,62.55 113.80,61.00 C115.28,59.45 116.42,58.13 117.70,57.10 C118.98,56.07 120.08,55.35 121.50,54.80 C122.92,54.25 124.65,53.87 126.20,53.80 C127.75,53.73 129.27,53.97 130.80,54.40 C132.33,54.83 133.87,55.48 135.40,56.40 C136.93,57.32 138.47,58.43 140.00,59.90 C141.53,61.37 143.07,63.22 144.60,65.20 C146.13,67.18 147.67,69.55 149.20,71.80 C150.73,74.05 152.25,76.53 153.80,78.70 C155.35,80.87 156.95,83.00 158.50,84.80 C160.05,86.60 161.57,88.22 163.10,89.50 C164.63,90.78 166.03,91.62 167.70,92.50 C169.37,93.38 171.18,94.20 173.10,94.80 C175.02,95.40 176.90,95.77 179.20,96.10 C181.50,96.43 184.27,96.62 186.90,96.80 C189.53,96.98 191.15,97.12 195.00,97.20 C198.85,97.28 202.05,97.28 210.00,97.30 C217.95,97.32 237.25,97.30 242.70,97.30" class="crv"/>
<text x="137.6" y="51.4" class="lab" text-anchor="middle">STAT3</text>
<line x1="137.7" x2="137.7" y1="54.3" y2="97.1" class="ll"/>
<path d="M32.2,31.3 V100.8 H252.3" class="axl"/>
<line x1="42.1" x2="42.1" y1="101.5" y2="104.9" class="tk"/>
<text x="42.1" y="120.4" class="tl" text-anchor="middle">0.0</text>
<line x1="142.1" x2="142.1" y1="101.5" y2="104.9" class="tk"/>
<text x="142.1" y="120.4" class="tl" text-anchor="middle">0.5</text>
<line x1="242.1" x2="242.1" y1="101.5" y2="104.9" class="tk"/>
<text x="242.1" y="120.4" class="tl" text-anchor="middle">1.0</text>
<text class="ax" transform="translate(141.6,140.5) scale(0.665,1)" text-anchor="middle">VAF</text>
</g>

<text x="200.4" y="612.2" class="lg">cluster</text>
<circle cx="247.7" cy="608" r="4.2" fill="#A00026" fill-opacity="0.78"/>
<text x="258" y="612.2" class="lg">1</text>
<circle cx="276.2" cy="608" r="4.2" fill="#2A487A" fill-opacity="0.78"/>
<text x="285.6" y="612.2" class="lg">2</text>
<circle cx="305" cy="608" r="4.2" fill="#55A834" fill-opacity="0.78"/>
<text x="313.6" y="612.2" class="lg">3</text>

</svg>
</body></html>
